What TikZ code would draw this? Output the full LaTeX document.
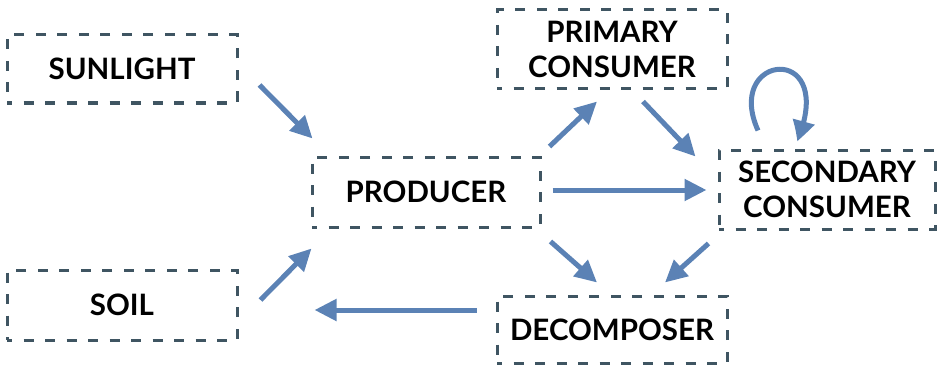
\documentclass[tikz,border=0pt]{standalone}
\usepackage{fontspec}
\setmainfont{Lato}
\usetikzlibrary{arrows.meta,bending}
\definecolor{boxline}{HTML}{3F5562}
\definecolor{flowblue}{HTML}{5B82B5}
\begin{document}
\begin{tikzpicture}[x=1pt,y=-1pt,
  stage/.style={draw=boxline, line width=3pt, dash pattern=on 10pt off 11.5pt,
    dash phase=5pt, rectangle, align=center, text=black,
    font=\fontsize{29.5}{35}\selectfont\bfseries, inner sep=0pt},
  flow/.style={draw=flowblue, line width=5pt,
    -{Triangle[length=22pt,width=21pt]}, flowblue}]
\useasboundingbox (0,0) rectangle (943,369);
% stages of the food web
\node[stage, minimum width=230pt, minimum height=68pt] (sun) at (122,69) {SUNLIGHT};
\node[stage, minimum width=230pt, minimum height=70pt] (soil) at (122,305) {SOIL};
\node[stage, minimum width=228pt, minimum height=70pt] (prod) at (426,192) {PRODUCER};
\node[stage, minimum width=230pt, minimum height=79pt] (prim) at (612,49.5) {PRIMARY\\CONSUMER};
\node[stage, minimum width=216pt, minimum height=79pt] (sec) at (827,189.5) {SECONDARY\\CONSUMER};
\node[stage, minimum width=230pt, minimum height=67pt] (dec) at (612,329.5) {DECOMPOSER};
% energy and matter flows
\draw[flow] ([shift={(21,16)}]sun.east) -- ([shift={(2,-17)}]prod.north west);
\draw[flow] ([shift={(22,-5)}]soil.east) -- ([shift={(1,20)}]prod.south west);
\draw[flow] ([shift={(8,-9)}]prod.north east) -- ([shift={(-15,11)}]prim.south);
\draw[flow] ([shift={(31,11)}]prim.south) -- ([shift={(-22,8)}]sec.north west);
\draw[flow] ([shift={(11,-2)}]prod.east) -- ([shift={(-11,0.5)}]sec.west);
\draw[flow] ([shift={(9,13)}]prod.south east) -- ([shift={(-15,-12)}]dec.north);
\draw[flow] ([shift={(-9,13)}]sec.south west) -- ([shift={(53,-12)}]dec.north);
\draw[flow] ([shift={(-19,-19.5)}]dec.west) -- ([shift={(76,5)}]soil.east);
% secondary consumers feeding on each other
\draw[flow, -{Triangle[length=22pt,width=21pt,bend]}] ([shift={(-69,-18)}]sec.north)
  .. controls +(-35,-78) and +(42,-100) .. ([shift={(-30,-7)}]sec.north);
\end{tikzpicture}
\end{document}
